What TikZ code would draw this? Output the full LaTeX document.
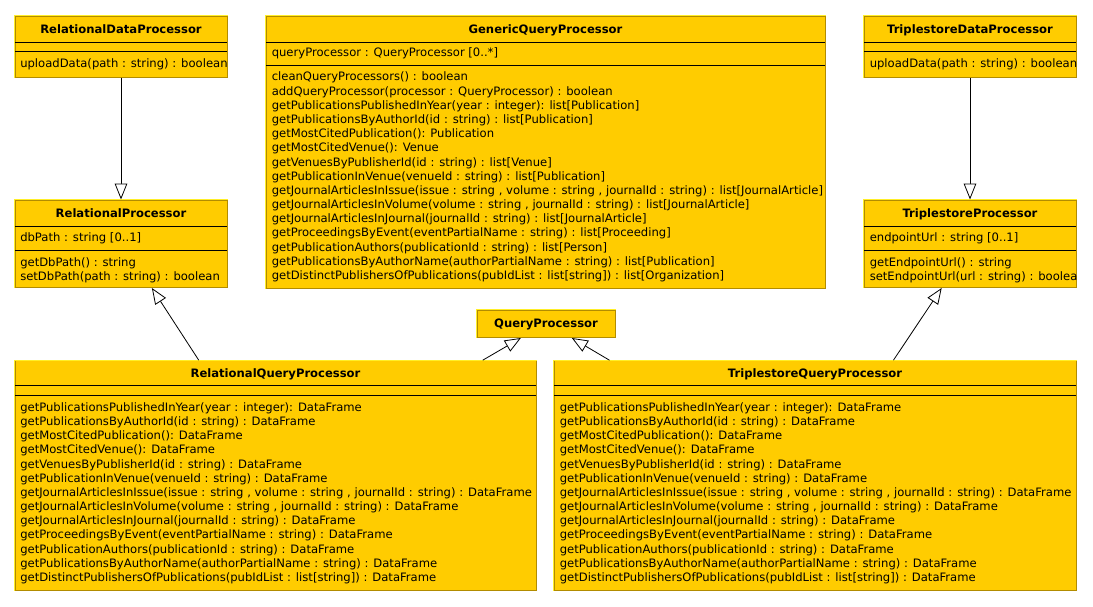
\documentclass[tikz,border=0pt]{standalone}
\usepackage{fontspec}
\setmainfont{DejaVu Sans}
\usetikzlibrary{arrows.meta}
\usetikzlibrary{fit}
\usetikzlibrary{calc}

\definecolor{umlfill}{RGB}{255,204,0}
\definecolor{umldark}{RGB}{178,140,0}
\definecolor{umllight}{RGB}{255,238,40}

\begin{document}
\begin{tikzpicture}[x=0.75pt, y=-0.75pt,
    box/.style={fill=umlfill, draw=umldark, line width=0.75pt, inner sep=0pt},
    bevel/.style={draw=umllight, line width=0.75pt},
    sep/.style={line width=0.75pt},
    title/.style={anchor=base, inner sep=0pt, font=\fontsize{8.7}{10.64}\selectfont\bfseries},
    members/.style={anchor=base west, inner sep=0pt, align=left, font=\fontsize{8.7}{10.64}\selectfont},
    inherits/.style={-{Triangle[length=12pt, width=9.5pt, fill=white]}, line width=0.6pt}]
    \useasboundingbox (0,0) rectangle (1093,607);

    % top row (member lists are placed at the baseline of their last line)
    \node[box, fit={(15,16) (227,77)}] (rdp) {};
    \node[title] (rdpt) at (121,33) {RelationalDataProcessor};
    \draw[sep] (15,42.3) -- (227,42.3);
    \draw[sep] (15,51.7) -- (227,51.7);
    \node[members] (rdpm) at (20,67) {uploadData(path : string) : boolean};

    \node[box, fit={(266,16) (825,288.5)}] (gqp) {};
    \node[title] (gqpt) at (545.5,33) {GenericQueryProcessor};
    \draw[sep] (266,42.3) -- (825,42.3);
    \draw[sep] (266,65.7) -- (825,65.7);
    \node[members] (gqpa) at (271.5,56.8) {queryProcessor : QueryProcessor [0..*]};
    \node[members] (gqpm) at (271.5,279.5) {cleanQueryProcessors() : boolean\\
        addQueryProcessor(processor : QueryProcessor) : boolean\\
        getPublicationsPublishedInYear(year : integer): list[Publication]\\
        getPublicationsByAuthorId(id : string) : list[Publication]\\
        getMostCitedPublication(): Publication\\
        getMostCitedVenue(): Venue\\
        getVenuesByPublisherId(id : string) : list[Venue]\\
        getPublicationInVenue(venueId : string) : list[Publication]\\
        getJournalArticlesInIssue(issue : string , volume : string , journalId : string) : list[JournalArticle]\\
        getJournalArticlesInVolume(volume : string , journalId : string) : list[JournalArticle]\\
        getJournalArticlesInJournal(journalId : string) : list[JournalArticle]\\
        getProceedingsByEvent(eventPartialName : string) : list[Proceeding]\\
        getPublicationAuthors(publicationId : string) : list[Person]\\
        getPublicationsByAuthorName(authorPartialName : string) : list[Publication]\\
        getDistinctPublishersOfPublications(pubIdList : list[string]) : list[Organization]};

    \node[box, fit={(864,16) (1076,77)}] (tdp) {};
    \node[title] (tdpt) at (970,33) {TriplestoreDataProcessor};
    \draw[sep] (864,42.3) -- (1076,42.3);
    \draw[sep] (864,51.7) -- (1076,51.7);
    \node[members] (tdpm) at (869.5,67) {uploadData(path : string) : boolean};

    % second row
    \node[box, fit={(15,200) (227,287.5)}] (rp) {};
    \node[title] (rpt) at (121,217.3) {RelationalProcessor};
    \draw[sep] (15,226.7) -- (227,226.7);
    \draw[sep] (15,250) -- (227,250);
    \node[members] (rpa) at (20,241.8) {dbPath : string [0..1]};
    \node[members] (rpm) at (20,280.4) {getDbPath() : string\\
        setDbPath(path : string) : boolean};

    \node[box, fit={(864,200) (1076,287.5)}] (tp) {};
    \node[title] (tpt) at (970,217.3) {TriplestoreProcessor};
    \draw[sep] (864,226.7) -- (1076,226.7);
    \draw[sep] (864,250) -- (1076,250);
    \node[members] (tpa) at (869.5,241.8) {endpointUrl : string [0..1]};
    \node[members] (tpm) at (869.5,280.4) {getEndpointUrl() : string\\
        setEndpointUrl(url : string) : boolea};

    \node[box, fit={(477,310) (615,337.5)}] (qp) {};
    \node[title] (qpt) at (546,327.5) {QueryProcessor};

    % bottom row
    \node[box, fit={(15,360.7) (536,590)}] (rqp) {};
    \node[title] (rqpt) at (275.5,377.3) {RelationalQueryProcessor};
    \draw[sep] (15,385.3) -- (536,385.3);
    \draw[sep] (15,395.7) -- (536,395.7);
    \node[members] (rqpm) at (20,581.5) {getPublicationsPublishedInYear(year : integer): DataFrame\\
        getPublicationsByAuthorId(id : string) : DataFrame\\
        getMostCitedPublication(): DataFrame\\
        getMostCitedVenue(): DataFrame\\
        getVenuesByPublisherId(id : string) : DataFrame\\
        getPublicationInVenue(venueId : string) : DataFrame\\
        getJournalArticlesInIssue(issue : string , volume : string , journalId : string) : DataFrame\\
        getJournalArticlesInVolume(volume : string , journalId : string) : DataFrame\\
        getJournalArticlesInJournal(journalId : string) : DataFrame\\
        getProceedingsByEvent(eventPartialName : string) : DataFrame\\
        getPublicationAuthors(publicationId : string) : DataFrame\\
        getPublicationsByAuthorName(authorPartialName : string) : DataFrame\\
        getDistinctPublishersOfPublications(pubIdList : list[string]) : DataFrame};

    \node[box, fit={(554,360.7) (1076,590)}] (tqp) {};
    \node[title] (tqpt) at (815,377.3) {TriplestoreQueryProcessor};
    \draw[sep] (554,385.3) -- (1076,385.3);
    \draw[sep] (554,395.7) -- (1076,395.7);
    \node[members] (tqpm) at (559.5,581.5) {getPublicationsPublishedInYear(year : integer): DataFrame\\
        getPublicationsByAuthorId(id : string) : DataFrame\\
        getMostCitedPublication(): DataFrame\\
        getMostCitedVenue(): DataFrame\\
        getVenuesByPublisherId(id : string) : DataFrame\\
        getPublicationInVenue(venueId : string) : DataFrame\\
        getJournalArticlesInIssue(issue : string , volume : string , journalId : string) : DataFrame\\
        getJournalArticlesInVolume(volume : string , journalId : string) : DataFrame\\
        getJournalArticlesInJournal(journalId : string) : DataFrame\\
        getProceedingsByEvent(eventPartialName : string) : DataFrame\\
        getPublicationAuthors(publicationId : string) : DataFrame\\
        getPublicationsByAuthorName(authorPartialName : string) : DataFrame\\
        getDistinctPublishersOfPublications(pubIdList : list[string]) : DataFrame};

    % light top and left edges
    \foreach \n in {rdp,gqp,tdp,rp,tp,qp,rqp,tqp}
        \draw[bevel] (\n.south west) |- (\n.north east);

    % generalisations
    \draw[inherits] (rdp.south) -- (rp.north);
    \draw[inherits] (tdp.south) -- (tp.north);
    \draw[inherits] ($(rqp.north west)!0.353!(rqp.north east)$) -- ($(rp.south west)!0.645!(rp.south east)$);
    \draw[inherits] ($(rqp.north west)!0.897!(rqp.north east)$) -- ($(qp.south west)!0.319!(qp.south east)$);
    \draw[inherits] ($(tqp.north west)!0.107!(tqp.north east)$) -- ($(qp.south west)!0.686!(qp.south east)$);
    \draw[inherits] ($(tqp.north west)!0.650!(tqp.north east)$) -- ($(tp.south west)!0.367!(tp.south east)$);
\end{tikzpicture}
\end{document}
